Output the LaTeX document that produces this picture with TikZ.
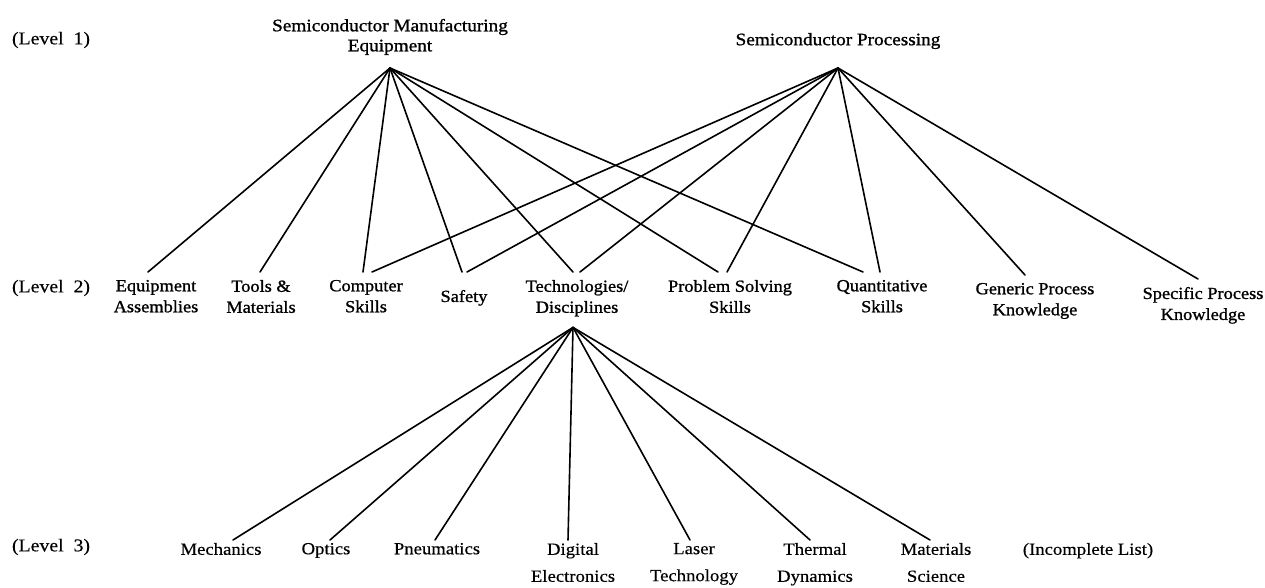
\documentclass[tikz,border=0pt]{standalone}
\usepackage{fontspec}
\setmainfont{Liberation Serif}
\newfontfamily\fa{Liberation Serif}[FakeStretch=1.1,FakeBold=1.1]
\newfontfamily\fb{Liberation Serif}[FakeStretch=1.08,FakeBold=1.1]
\newfontfamily\fc{Liberation Serif}[FakeStretch=1.1,FakeBold=0.4]
\begin{document}
\begin{tikzpicture}[x=1pt,y=-1pt,
  every node/.style={inner sep=0pt, outer sep=0pt},
  lone/.style={font=\fa\fontsize{17.5}{20}\selectfont, align=center},
  ltwo/.style={font=\fb\fontsize{17}{21}\selectfont, align=center, anchor=north, inner ysep=8pt},
  lthree/.style={font=\fc\fontsize{17}{27}\selectfont, align=center, anchor=north, inner ysep=3pt},
  lvl/.style={font=\fc\fontsize{18}{20}\selectfont, anchor=west},
  link/.style={line width=1.6pt, line cap=round}]
\useasboundingbox (0,0) rectangle (1265,588);

% level labels
\node[lvl] (l1) at (12,40) {(Level\ \ 1)};
\node[lvl] (l2) at (12,288) {(Level\ \ 2)};
\node[lvl] (l3) at (12,547) {(Level\ \ 3)};

% level 1
\node[lone, anchor=south, inner ysep=13pt] (mfg) at (390,68) {Semiconductor Manufacturing\\Equipment};
\node[lone, anchor=south, inner ysep=19pt] (proc) at (838,68) {Semiconductor Processing};

% level 2
\node[ltwo] (ea) at (156,272) {Equipment\\Assemblies};
\node[ltwo] (tm) at (261,272) {Tools \&\\Materials};
\node[ltwo] (cs) at (366,272) {Computer\\Skills};
\node[ltwo, inner ysep=18pt] (sf) at (464,272) {Safety};
\node[ltwo] (td) at (577,272) {Technologies/\\Disciplines};
\node[ltwo] (ps) at (730,272) {Problem Solving\\Skills};
\node[ltwo] (qs) at (882,272) {Quantitative\\Skills};
\node[ltwo] (gp) at (1035,275) {Generic Process\\Knowledge};
\node[ltwo] (sp) at (1203,279) {Specific Process\\Knowledge};

% level 3
\node[lthree] (me) at (221,540) {Mechanics};
\node[lthree] (op) at (326,540) {Optics};
\node[lthree] (pn) at (437,540) {Pneumatics};
\node[lthree] (de) at (573,540) {Digital\\Electronics};
\node[lthree] (lt) at (694,540) {Laser\\Technology};
\node[lthree] (th) at (815,540) {Thermal\\Dynamics};
\node[lthree] (ms) at (936,540) {Materials\\Science};
\node[lthree] (il) at (1088,540) {(Incomplete List)};

\coordinate (tdtip) at ([xshift=-4pt,yshift=-3pt]td.south);

% level 1 -> level 2
\draw[link] (mfg.south) -- ([xshift=-8pt]ea.north);
\draw[link] (mfg.south) -- ([xshift=-1pt]tm.north);
\draw[link] (mfg.south) -- ([xshift=-3pt]cs.north);
\draw[link] (mfg.south) -- ([xshift=-2pt]sf.north);
\draw[link] (mfg.south) -- ([xshift=-4pt]td.north);
\draw[link] (mfg.south) -- ([xshift=-12pt]ps.north);
\draw[link] (mfg.south) -- ([xshift=-19pt]qs.north);

\draw[link] (proc.south) -- ([xshift=6pt]cs.north);
\draw[link] (proc.south) -- ([xshift=3pt]sf.north);
\draw[link] (proc.south) -- ([xshift=3pt]td.north);
\draw[link] (proc.south) -- ([xshift=-3pt]ps.north);
\draw[link] (proc.south) -- ([xshift=-2pt]qs.north);
\draw[link] (proc.south) -- ([xshift=-10pt]gp.north);
\draw[link] (proc.south) -- ([xshift=-5pt]sp.north);

% level 2 -> level 3
\draw[link] (tdtip) -- ([xshift=12pt]me.north);
\draw[link] (tdtip) -- ([xshift=4pt]op.north);
\draw[link] (tdtip) -- ([xshift=-2pt]pn.north);
\draw[link] (tdtip) -- ([xshift=-5pt]de.north);
\draw[link] (tdtip) -- ([xshift=-4pt]lt.north);
\draw[link] (tdtip) -- ([xshift=-5pt]th.north);
\draw[link] (tdtip) -- ([xshift=-6pt]ms.north);
\end{tikzpicture}
\end{document}
